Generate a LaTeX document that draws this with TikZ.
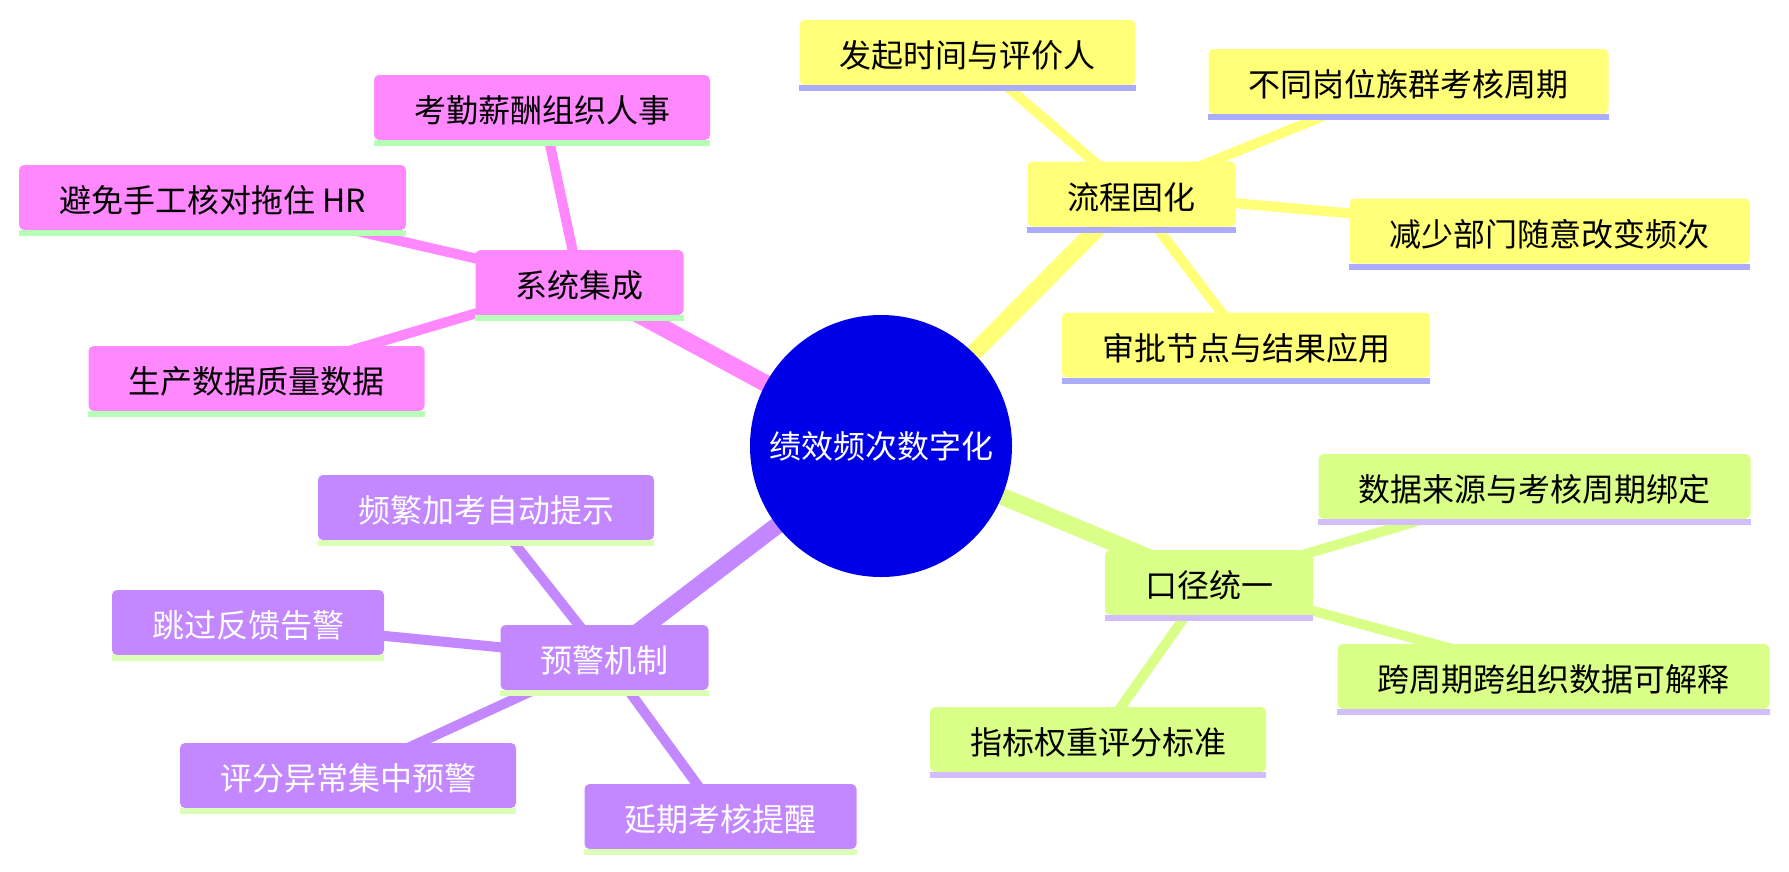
\documentclass[tikz,border=0pt]{standalone}
\usepackage{fontspec}
\setmainfont{Noto Sans CJK SC}
\usetikzlibrary{backgrounds}
\definecolor{rootblue}{RGB}{0,0,232}
\definecolor{cP}{RGB}{255,136,255}
\definecolor{ulP}{RGB}{182,255,182}
\definecolor{cY}{RGB}{255,255,120}
\definecolor{ulY}{RGB}{172,172,255}
\definecolor{cU}{RGB}{195,136,255}
\definecolor{ulU}{RGB}{220,255,184}
\definecolor{cG}{RGB}{217,255,136}
\definecolor{ulG}{RGB}{210,190,255}
\tikzset{
  mmtext/.style={font=\fontsize{32pt}{38pt}\selectfont},
  mm/.style={mmtext, rectangle, rounded corners=5pt, inner xsep=40pt, inner ysep=0pt,
    minimum height=65pt, text height=30pt, text depth=0pt},
  pinknode/.style={mm, fill=cP, text=black},
  yellownode/.style={mm, fill=cY, text=black},
  purplenode/.style={mm, fill=cU, text=white},
  greennode/.style={mm, fill=cG, text=black},
  rootnode/.style={mmtext, circle, fill=rootblue, text=white, minimum size=262pt, inner sep=0pt},
  rootedge/.style={line width=17pt},
  leafedge/.style={line width=10pt},
}
\begin{document}
\begin{tikzpicture}[x=1pt,y=-1pt]
\useasboundingbox (0,0) rectangle (1789,871);
% root
\node[rootnode] (root) at (881,446) {绩效频次数字化};
% yellow
\node[yellownode] (y0) at (1131.5,194) {流程固化};
\node[yellownode] (y1) at (967.5,52.5) {发起时间与评价人};
\node[yellownode] (y2) at (1408.5,81.5) {不同岗位族群考核周期};
\node[yellownode] (y3) at (1549.5,231) {减少部门随意改变频次};
\node[yellownode] (y4) at (1246,345) {审批节点与结果应用};
% pink
\node[pinknode] (p0) at (579.5,282.5) {系统集成};
\node[pinknode] (p1) at (542,107.5) {考勤薪酬组织人事};
\node[pinknode] (p2) at (212.5,197.5) {避免手工核对拖住 HR};
\node[pinknode] (p3) at (256.5,378.5) {生产数据质量数据};
% purple
\node[purplenode] (u0) at (604.5,657.5) {预警机制};
\node[purplenode] (u1) at (486,507.5) {频繁加考自动提示};
\node[purplenode] (u2) at (248,622.5) {跳过反馈告警};
\node[purplenode] (u3) at (348,775.5) {评分异常集中预警};
\node[purplenode] (u4) at (720.5,816.5) {延期考核提醒};
% green
\node[greennode] (g0) at (1209,582.5) {口径统一};
\node[greennode] (g1) at (1534.5,486.5) {数据来源与考核周期绑定};
\node[greennode] (g2) at (1553.5,676.5) {跨周期跨组织数据可解释};
\node[greennode] (g3) at (1098,739.5) {指标权重评分标准};
% underlines
\foreach \n/\c in {y0/ulY,y1/ulY,y2/ulY,y3/ulY,y4/ulY,p0/ulP,p1/ulP,p2/ulP,p3/ulP,u0/ulU,u1/ulU,u2/ulU,u3/ulU,u4/ulU,g0/ulG,g1/ulG,g2/ulG,g3/ulG}
  \fill[\c] (\n.south west) rectangle ([yshift=-6pt]\n.south east);
% edges
\begin{scope}[on background layer]
\draw[rootedge, cY] (root.center) -- (y0.center);
\draw[rootedge, cP] (root.center) -- (p0.center);
\draw[rootedge, cU] (root.center) -- (u0.center);
\draw[rootedge, cG] (root.center) -- (g0.center);
\foreach \a in {y1,y2,y3,y4} \draw[leafedge, cY] (y0.center) -- (\a.center);
\foreach \a in {p1,p2,p3} \draw[leafedge, cP] (p0.center) -- (\a.center);
\foreach \a in {u1,u2,u3,u4} \draw[leafedge, cU] (u0.center) -- (\a.center);
\foreach \a in {g1,g2,g3} \draw[leafedge, cG] (g0.center) -- (\a.center);
\end{scope}
\end{tikzpicture}
\end{document}
